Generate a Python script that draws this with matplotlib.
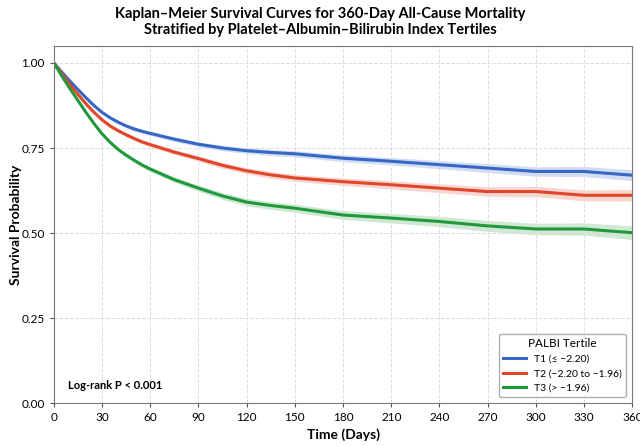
import matplotlib
matplotlib.use('Agg')
import matplotlib.pyplot as plt
import numpy as np

plt.rcParams['font.family'] = ['Lato', 'DejaVu Sans']

# Kaplan-Meier estimates per PALBI tertile
days = [0, 5, 10, 15, 20, 25, 30, 35, 40, 45, 50, 55, 60, 75, 90, 105, 120, 135,
        150, 180, 210, 240, 270, 300, 330, 360]
surv_t1 = [1.0, 0.973, 0.947, 0.922, 0.898, 0.875, 0.855, 0.839, 0.826, 0.815, 0.806,
           0.799, 0.793, 0.776, 0.761, 0.750, 0.742, 0.737,
           0.733, 0.720, 0.711, 0.701, 0.691, 0.681, 0.681, 0.670]
surv_t2 = [1.0, 0.968, 0.937, 0.908, 0.880, 0.855, 0.833, 0.815, 0.801, 0.789, 0.778,
           0.768, 0.760, 0.738, 0.719, 0.699, 0.683, 0.671,
           0.662, 0.651, 0.642, 0.632, 0.622, 0.622, 0.611, 0.611]
surv_t3 = [1.0, 0.962, 0.925, 0.890, 0.855, 0.822, 0.792, 0.767, 0.746, 0.729, 0.714,
           0.700, 0.688, 0.657, 0.632, 0.609, 0.591, 0.581,
           0.573, 0.553, 0.544, 0.534, 0.521, 0.512, 0.512, 0.501]
# half width of 95% CI
ci_t1 = [0.0, 0.001, 0.002, 0.003, 0.003, 0.004, 0.004, 0.005, 0.005, 0.005, 0.006,
         0.006, 0.006, 0.007, 0.007, 0.008, 0.008, 0.009,
         0.009, 0.010, 0.011, 0.012, 0.013, 0.014, 0.015, 0.016]
ci_t2 = [0.0, 0.001, 0.002, 0.003, 0.003, 0.004, 0.004, 0.005, 0.005, 0.006, 0.006,
         0.006, 0.007, 0.007, 0.008, 0.009, 0.009, 0.010,
         0.010, 0.011, 0.012, 0.013, 0.014, 0.015, 0.016, 0.017]
ci_t3 = [0.0, 0.001, 0.002, 0.003, 0.003, 0.004, 0.004, 0.005, 0.005, 0.006, 0.006,
         0.007, 0.007, 0.008, 0.009, 0.010, 0.011, 0.011,
         0.012, 0.013, 0.014, 0.015, 0.016, 0.017, 0.018, 0.020]

labels = ['T1 (≤ −2.20)', 'T2 (−2.20 to −1.96)', 'T3 (> −1.96)']
colors = ['#3467c6', '#e0462a', '#20993a']

fig = plt.figure(figsize=(6.4, 4.46), dpi=100)
ax = fig.add_axes([0.084, 0.096, 0.904, 0.801])

for s, ci, lab, c in zip([surv_t1, surv_t2, surv_t3], [ci_t1, ci_t2, ci_t3], labels, colors):
    s = np.array(s)
    ci = np.array(ci)
    ax.fill_between(days, s - ci, s + ci, color=c, alpha=0.22, linewidth=0)
    ax.plot(days, s, color=c, linewidth=2.2, label=lab, solid_joinstyle='round')

ax.set_xlim(0, 360)
ax.set_ylim(0, 1.05)
ax.set_xticks(np.arange(0, 361, 30))
ax.set_yticks([0, 0.25, 0.5, 0.75, 1.0])
ax.set_yticklabels(['0.00', '0.25', '0.50', '0.75', '1.00'])
ax.tick_params(labelsize=8.5, color='#555555', length=3)
ax.grid(True, linestyle='--', color='#dddddd', linewidth=0.7)
for sp in ax.spines.values():
    sp.set_color('#777777')

ax.set_xlabel('Time (Days)', fontsize=10, fontweight='bold')
ax.set_ylabel('Survival Probability', fontsize=10, fontweight='bold')
ax.yaxis.set_label_coords(-0.055, 0.5)
fig.suptitle('Kaplan–Meier Survival Curves for 360-Day All-Cause Mortality\n'
             'Stratified by Platelet–Albumin–Bilirubin Index Tertiles',
             fontsize=10.5, fontweight='bold', y=0.985)

ax.text(0.025, 0.04, 'Log-rank P < 0.001', transform=ax.transAxes,
        fontsize=8, fontweight='bold')

leg = ax.legend(title='PALBI Tertile', loc='lower right', fontsize=7.5,
                title_fontsize=8.5, frameon=True, edgecolor='#999999',
                handlelength=2.2, borderaxespad=0.6)

fig.savefig('out.png', dpi=100)
